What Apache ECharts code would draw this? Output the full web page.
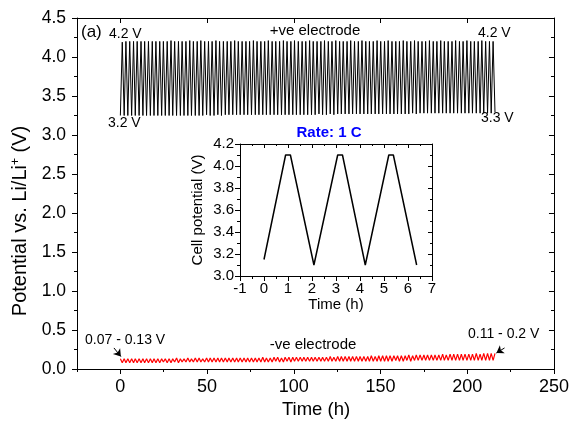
<!DOCTYPE html>
<html>
<head>
<meta charset="utf-8">
<script src="https://cdn.jsdelivr.net/npm/echarts@6/dist/echarts.min.js"></script>
<style>html,body{margin:0;padding:0;background:#fff}#c{width:572px;height:431px}</style>
</head>
<body>
<div id="c"></div>
<script>
// main x-axis tick values (h)
var xMajorTicks = [0,50,100,150,200,250];
var xMinorTicks = [-25,25,75,125,175,225];
// turning-point times (h) of the cycling record
var timeH = [0,1.1,2.2,3.2,4.3,5.4,6.5,7.6,8.6,9.7,10.8,11.9,13.0,14.0,15.1,16.2,17.3,18.4,19.4,20.5,
21.6,22.7,23.8,24.8,25.9,27.0,28.1,29.2,30.2,31.3,32.4,33.5,34.6,35.6,36.7,37.8,38.9,40.0,41.0,42.1,
43.2,44.3,45.4,46.4,47.5,48.6,49.7,50.8,51.8,52.9,54.0,55.1,56.2,57.2,58.3,59.4,60.5,61.6,62.6,63.7,
64.8,65.9,67.0,68.0,69.1,70.2,71.3,72.4,73.4,74.5,75.6,76.7,77.8,78.8,79.9,81.0,82.1,83.2,84.2,85.3,
86.4,87.5,88.6,89.6,90.7,91.8,92.9,94.0,95.0,96.1,97.2,98.3,99.4,100.4,101.5,102.6,103.7,104.8,105.8,106.9,
108.0,109.1,110.2,111.2,112.3,113.4,114.5,115.6,116.6,117.7,118.8,119.9,121.0,122.0,123.1,124.2,125.3,126.4,127.4,128.5,
129.6,130.7,131.8,132.8,133.9,135.0,136.1,137.2,138.2,139.3,140.4,141.5,142.6,143.6,144.7,145.8,146.9,148.0,149.0,150.1,
151.2,152.3,153.4,154.4,155.5,156.6,157.7,158.8,159.8,160.9,162.0,163.1,164.2,165.2,166.3,167.4,168.5,169.6,170.6,171.7,
172.8,173.9,175.0,176.0,177.1,178.2,179.3,180.4,181.4,182.5,183.6,184.7,185.8,186.8,187.9,189.0,190.1,191.2,192.2,193.3,
194.4,195.5,196.6,197.6,198.7,199.8,200.9,202.0,203.0,204.1,205.2,206.3,207.4,208.4,209.5,210.6,211.7,212.8,213.8,214.9,
216.0];
// +ve electrode: discharge-end (low) and charge-end (high) potentials (V)
var posLow = [3.25,3.25,3.25,3.25,3.25,3.25,3.25,3.25,3.25,3.25,
3.25,3.25,3.25,3.25,3.25,3.25,3.25,3.25,3.25,3.25,
3.25,3.25,3.25,3.26,3.25,3.25,3.26,3.25,3.26,3.26,
3.26,3.26,3.26,3.26,3.26,3.26,3.26,3.26,3.26,3.26,
3.26,3.26,3.26,3.26,3.26,3.26,3.26,3.26,3.26,3.26,
3.26,3.26,3.26,3.27,3.26,3.26,3.27,3.26,3.27,3.27,
3.27,3.27,3.27,3.27,3.27,3.27,3.27,3.27,3.27,3.27,
3.27,3.27,3.27,3.27,3.27,3.27,3.27,3.27,3.28,3.27,
3.28,3.28,3.28,3.28,3.28,3.28,3.28,3.28,3.28,3.28,
3.28,3.28,3.28,3.28,3.28,3.28,3.28,3.28,3.28,3.28,
3.29];
var posHigh = [4.19,4.2,4.2,4.2,4.2,4.2,4.2,4.2,4.2,4.2,
4.2,4.2,4.2,4.21,4.2,4.2,4.2,4.2,4.21,4.2,
4.2,4.21,4.2,4.2,4.2,4.21,4.2,4.2,4.2,4.2,
4.21,4.2,4.2,4.2,4.2,4.21,4.2,4.2,4.2,4.21,
4.2,4.2,4.2,4.21,4.2,4.2,4.21,4.2,4.2,4.2,
4.21,4.2,4.2,4.2,4.21,4.2,4.2,4.21,4.2,4.2,
4.2,4.21,4.2,4.2,4.21,4.2,4.2,4.2,4.21,4.2,
4.2,4.21,4.2,4.2,4.2,4.21,4.2,4.2,4.21,4.2,
4.2,4.2,4.21,4.2,4.2,4.21,4.2,4.2,4.2,4.21,
4.2,4.2,4.21,4.2,4.2,4.2,4.21,4.2,4.2,4.2];
// -ve electrode: high (discharge end) and low (charge end) potentials (V)
var negHigh = [0.13,0.13,0.13,0.13,0.13,0.13,0.13,0.13,0.13,0.13,
0.13,0.13,0.13,0.13,0.13,0.14,0.13,0.13,0.14,0.13,
0.14,0.14,0.13,0.14,0.14,0.14,0.14,0.14,0.14,0.14,
0.14,0.14,0.14,0.14,0.14,0.14,0.14,0.14,0.15,0.14,
0.14,0.15,0.15,0.14,0.15,0.15,0.15,0.15,0.15,0.15,
0.15,0.15,0.15,0.15,0.15,0.15,0.16,0.15,0.16,0.16,
0.16,0.16,0.16,0.16,0.16,0.16,0.16,0.17,0.16,0.17,
0.17,0.17,0.17,0.17,0.17,0.17,0.17,0.18,0.17,0.18,
0.18,0.18,0.18,0.18,0.18,0.18,0.19,0.18,0.19,0.19,
0.19,0.19,0.19,0.19,0.19,0.20,0.19,0.20,0.20,0.20,
0.20];
var negLow = [0.08,0.08,0.08,0.08,0.08,0.08,0.08,0.08,0.08,0.08,
0.08,0.09,0.08,0.08,0.09,0.08,0.09,0.09,0.09,0.09,
0.09,0.09,0.09,0.09,0.09,0.09,0.09,0.09,0.09,0.09,
0.09,0.09,0.09,0.09,0.09,0.09,0.09,0.09,0.09,0.09,
0.09,0.10,0.09,0.09,0.10,0.09,0.10,0.10,0.10,0.10,
0.10,0.10,0.10,0.10,0.10,0.10,0.10,0.10,0.10,0.10,
0.10,0.10,0.10,0.10,0.10,0.10,0.10,0.10,0.10,0.10,
0.10,0.10,0.10,0.11,0.10,0.10,0.11,0.10,0.11,0.11,
0.11,0.11,0.11,0.11,0.11,0.11,0.11,0.11,0.11,0.11,
0.11,0.11,0.11,0.11,0.11,0.11,0.11,0.11,0.11,0.11];
// inset: first three cycles at 1 C
var insetT = [0,0.9,1.1,2.08,3.07,3.27,4.22,5.2,5.39,6.36];
var insetV = [3.15,4.1,4.1,3.1,4.1,4.1,3.1,4.1,4.1,3.1];

var posData = [], negData = [], insetData = [];
for (var i = 0; i < timeH.length; i++) {
  var even = (i % 2 === 0);
  posData.push([timeH[i], even ? posLow[i/2] : posHigh[(i-1)/2]]);
  negData.push([timeH[i], even ? negHigh[i/2] : negLow[(i-1)/2]]);
}
for (var j = 0; j < insetT.length; j++) insetData.push([insetT[j], insetV[j]]);

var FF = '"Liberation Sans", Arial, sans-serif';
var blk = '#000';
function axBase(o) {
  var base = {
    axisLine: {show: true, onZero: false, lineStyle: {color: blk, width: 1}},
    splitLine: {show: false},
    axisTick: {show: true, inside: false, length: 5, lineStyle: {color: blk}},
    minorTick: {show: true, splitNumber: 2, length: 3, lineStyle: {color: blk}},
    axisLabel: {color: blk, fontFamily: FF}
  };
  for (var k in o) base[k] = o[k];
  return base;
}

var chart = echarts.init(document.getElementById('c'), null, {renderer: 'canvas'});
chart.setOption({
  animation: false,
  backgroundColor: '#fff',
  grid: [
    {left: 77, top: 18, width: 478, height: 351},
    {left: 240, top: 144, width: 192, height: 132}
  ],
  xAxis: [
    axBase({type: 'value', gridIndex: 0, min: -25, max: 250, interval: 25, position: 'bottom',
      axisTick: {show: true, inside: false, length: 5, customValues: xMajorTicks, lineStyle: {color: blk}},
      minorTick: {show: false},
      axisLabel: {color: blk, fontFamily: FF, fontSize: 18, margin: 9, customValues: xMajorTicks}}),
    axBase({type: 'value', gridIndex: 0, min: -25, max: 250, interval: 25, position: 'top',
      axisTick: {show: true, inside: true, length: 5, customValues: xMajorTicks, lineStyle: {color: blk}},
      minorTick: {show: false},
      axisLabel: {show: false}}),
    axBase({type: 'value', gridIndex: 1, min: -1, max: 7, interval: 1, position: 'bottom',
      axisLabel: {color: blk, fontFamily: FF, fontSize: 15, margin: 5}}),
    axBase({type: 'value', gridIndex: 1, min: -1, max: 7, interval: 1, position: 'top',
      axisTick: {show: true, inside: true, length: 4, lineStyle: {color: blk}},
      minorTick: {show: true, splitNumber: 2, length: 2, lineStyle: {color: blk}},
      axisLabel: {show: false}}),
    // minor ticks of the main x axis (bottom, outward)
    axBase({type: 'value', gridIndex: 0, min: -25, max: 250, interval: 25, position: 'bottom',
      axisLine: {show: false},
      axisTick: {show: true, inside: false, length: 3, customValues: xMinorTicks, lineStyle: {color: blk}},
      minorTick: {show: false}, axisLabel: {show: false}}),
    // minor ticks of the main x axis (top, inward)
    axBase({type: 'value', gridIndex: 0, min: -25, max: 250, interval: 25, position: 'top',
      axisLine: {show: false},
      axisTick: {show: true, inside: true, length: 3, customValues: xMinorTicks, lineStyle: {color: blk}},
      minorTick: {show: false}, axisLabel: {show: false}})
  ],
  yAxis: [
    axBase({type: 'value', gridIndex: 0, min: 0, max: 4.5, interval: 0.5, position: 'left',
      axisLabel: {color: blk, fontFamily: FF, fontSize: 17.5, margin: 11,
        formatter: function (v) { return v.toFixed(1); }}}),
    axBase({type: 'value', gridIndex: 0, min: 0, max: 4.5, interval: 0.5, position: 'right',
      axisTick: {show: true, inside: true, length: 5, lineStyle: {color: blk}},
      minorTick: {show: true, splitNumber: 2, length: 3, lineStyle: {color: blk}},
      axisLabel: {show: false}}),
    axBase({type: 'value', gridIndex: 1, min: 3.0, max: 4.2, interval: 0.2, position: 'left',
      axisLabel: {color: blk, fontFamily: FF, fontSize: 15, margin: 6,
        formatter: function (v) { return v.toFixed(1); }}}),
    axBase({type: 'value', gridIndex: 1, min: 3.0, max: 4.2, interval: 0.2, position: 'right',
      axisTick: {show: true, inside: true, length: 4, lineStyle: {color: blk}},
      minorTick: {show: true, splitNumber: 2, length: 2, lineStyle: {color: blk}},
      axisLabel: {show: false}})
  ],
  series: [
    {type: 'line', xAxisIndex: 0, yAxisIndex: 0, data: posData, showSymbol: false,
      lineStyle: {color: '#000', width: 1}, silent: true},
    {type: 'line', xAxisIndex: 0, yAxisIndex: 0, data: negData, showSymbol: false,
      lineStyle: {color: '#ff0000', width: 1.2}, silent: true,
      markLine: {silent: true, symbol: ['none', 'arrow'], symbolSize: 7, animation: false,
        label: {show: false}, lineStyle: {color: '#000', type: 'solid', width: 1},
        data: [
          [{coord: [-3.7, 0.27]}, {coord: [0.3, 0.16]}],
          [{coord: [221.5, 0.27]}, {coord: [216.8, 0.205]}]
        ]}},
    {type: 'line', xAxisIndex: 2, yAxisIndex: 2, data: insetData, showSymbol: false,
      lineStyle: {color: '#000', width: 1.5}, silent: true}
  ],
  graphic: [
    {type: 'text', x: 20, y: 221, rotation: Math.PI / 2,
      style: {text: 'Potential vs. Li/Li{sup|+} (V)', fontFamily: FF, fontSize: 20, fill: blk,
        textAlign: 'center', textVerticalAlign: 'middle',
        rich: {sup: {fontSize: 12, fontFamily: FF, verticalAlign: 'top', fill: blk}}}},
    {type: 'text', x: 316, y: 410, style: {text: 'Time (h)', fontFamily: FF, fontSize: 18.5, fill: blk,
      textAlign: 'center', textVerticalAlign: 'middle'}},
    {type: 'text', x: 198, y: 210, rotation: Math.PI / 2,
      style: {text: 'Cell potential (V)', fontFamily: FF, fontSize: 15, fill: blk,
        textAlign: 'center', textVerticalAlign: 'middle'}},
    {type: 'text', x: 336, y: 305, style: {text: 'Time (h)', fontFamily: FF, fontSize: 15, fill: blk,
      textAlign: 'center', textVerticalAlign: 'middle'}},
    {type: 'text', x: 329, y: 133, style: {text: 'Rate: 1 C', fontFamily: FF, fontSize: 15, fontWeight: 'bold',
      fill: '#0000ff', textAlign: 'center', textVerticalAlign: 'middle'}},
    {type: 'text', x: 81, y: 32, style: {text: '(a)', fontFamily: FF, fontSize: 17, fill: blk,
      textAlign: 'left', textVerticalAlign: 'middle'}},
    {type: 'text', x: 109, y: 34, style: {text: '4.2 V', fontFamily: FF, fontSize: 14, fill: blk,
      textAlign: 'left', textVerticalAlign: 'middle'}},
    {type: 'text', x: 108, y: 123, style: {text: '3.2 V', fontFamily: FF, fontSize: 14, fill: blk,
      textAlign: 'left', textVerticalAlign: 'middle'}},
    {type: 'text', x: 315, y: 31, style: {text: '+ve electrode', fontFamily: FF, fontSize: 15, fill: blk,
      textAlign: 'center', textVerticalAlign: 'middle'}},
    {type: 'text', x: 478, y: 33, style: {text: '4.2 V', fontFamily: FF, fontSize: 14, fill: blk,
      textAlign: 'left', textVerticalAlign: 'middle'}},
    {type: 'text', x: 481, y: 118, style: {text: '3.3 V', fontFamily: FF, fontSize: 14, fill: blk,
      textAlign: 'left', textVerticalAlign: 'middle'}},
    {type: 'text', x: 85, y: 340, style: {text: '0.07 - 0.13 V', fontFamily: FF, fontSize: 14, fill: blk,
      textAlign: 'left', textVerticalAlign: 'middle'}},
    {type: 'text', x: 313, y: 345, style: {text: '-ve electrode', fontFamily: FF, fontSize: 15, fill: blk,
      textAlign: 'center', textVerticalAlign: 'middle'}},
    {type: 'text', x: 468, y: 334, style: {text: '0.11 - 0.2 V', fontFamily: FF, fontSize: 14, fill: blk,
      textAlign: 'left', textVerticalAlign: 'middle'}}
  ]
});
</script>
</body>
</html>
